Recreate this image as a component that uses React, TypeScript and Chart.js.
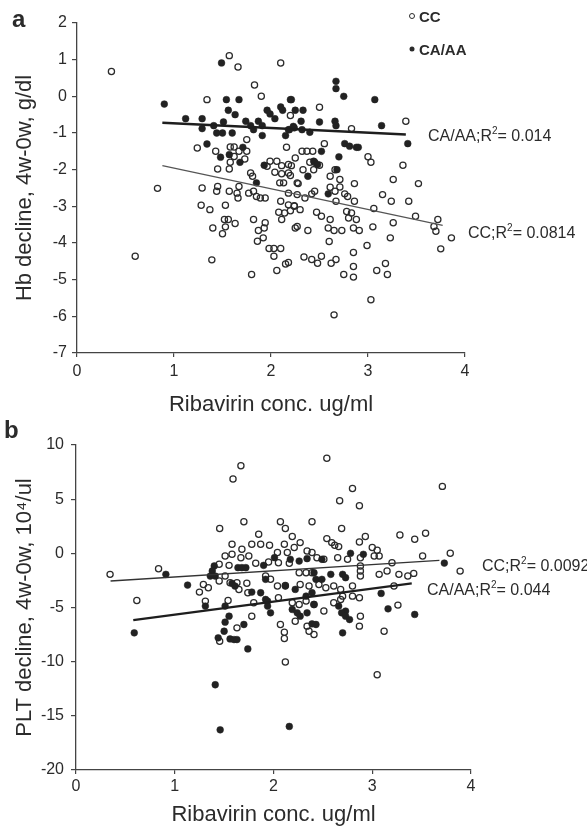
import React, { useEffect, useRef } from "react";
import { Chart, registerables } from "chart.js";

Chart.register(...registerables);

// ---------- DATA ----------
const xTicksLabel = "Ribavirin conc. ug/ml";
const hbTitle = "Hb decline, 4w-0w, g/dl";
const pltTitle = "PLT decline, 4w-0w, 10\u2074/ul";

// Panel a: Hb decline (CC = open circles)
const hbCC: [number, number][] = [
  [0.355, 0.68], [0.6, -4.36], [0.83, -2.51],
  [1.57, 1.11], [1.66, 0.8], [2.1, 0.91], [1.83, 0.31], [1.9, 0.0], [1.34, -0.09],
  [2.2, -0.52], [1.75, -1.18], [2.16, -1.39], [1.24, -1.41], [1.43, -1.5],
  [1.58, -1.38], [1.62, -1.38], [1.67, -1.5], [1.75, -1.5],
  [1.62, -1.64], [1.73, -1.71], [1.58, -1.8], [1.45, -1.98], [1.57, -1.98],
  [1.99, -1.77], [2.06, -1.77], [2.11, -1.89], [2.21, -1.89], [1.96, -1.91], [2.04, -2.07], [2.11, -2.11], [2.18, -2.09],
  [1.79, -2.09], [1.81, -2.18], [2.09, -2.36], [2.13, -2.36], [2.27, -2.36],
  [1.29, -2.5], [1.45, -2.46], [1.44, -2.59], [1.57, -2.59], [1.67, -2.46], [1.66, -2.77], [1.65, -2.64],
  [1.77, -2.64], [1.82, -2.59], [1.85, -2.73], [1.89, -2.77], [1.94, -2.77], [2.27, -2.68],
  [1.28, -2.97], [1.37, -3.09], [1.53, -2.97], [2.1, -2.86],
  [2.08, -3.16], [2.14, -3.18], [2.2, -3.12], [2.11, -3.36], [2.24, -2.98],
  [1.82, -3.36], [1.94, -3.45], [1.93, -3.59],
  [1.52, -3.36], [1.56, -3.36], [1.63, -3.47], [1.53, -3.56], [1.5, -3.75],
  [1.4, -3.59], [2.25, -3.59],
  [1.87, -3.66], [1.92, -3.86], [1.86, -3.95],
  [1.98, -4.15], [2.03, -4.15], [2.1, -4.15], [2.03, -4.36],
  [2.15, -4.57], [2.06, -4.75], [1.39, -4.46], [1.8, -4.86],
  [2.5, -0.3], [2.83, -0.88], [3.39, -0.68], [2.55, -1.29],
  [2.32, -1.5], [2.37, -1.5], [2.43, -1.5], [2.25, -1.68], [2.18, -1.86],
  [2.4, -1.8], [2.45, -1.8], [2.5, -1.88], [2.33, -2.0], [2.44, -2.0],
  [3.0, -1.65], [3.03, -1.8], [3.36, -1.88], [2.66, -2.0],
  [2.2, -2.16], [2.28, -2.38], [2.61, -2.18], [2.71, -2.27], [2.86, -2.38], [3.26, -2.27], [3.52, -2.38],
  [2.61, -2.48], [2.66, -2.59], [2.71, -2.47],
  [2.45, -2.59], [2.18, -2.64], [2.35, -2.77], [2.42, -2.66],
  [2.76, -2.66], [2.79, -2.73], [2.86, -2.86], [2.67, -2.86],
  [3.15, -2.68], [3.24, -2.86], [3.42, -2.86],
  [2.18, -2.96], [2.24, -3.0], [2.3, -3.09], [2.47, -3.16], [2.52, -3.27], [2.78, -3.14], [2.83, -3.18], [2.88, -3.36], [2.8, -3.32],
  [3.06, -3.06], [3.49, -3.27], [3.72, -3.36], [3.68, -3.55], [3.7, -3.68],
  [2.27, -3.55], [2.38, -3.66], [2.61, -3.36], [2.59, -3.59], [2.65, -3.66], [2.73, -3.66], [2.85, -3.59], [2.91, -3.66], [3.05, -3.56],
  [3.26, -3.45], [3.23, -3.86], [3.86, -3.86], [3.75, -4.16],
  [2.18, -4.53], [2.6, -3.96], [2.99, -4.07],
  [2.34, -4.38], [2.42, -4.45], [2.48, -4.55], [2.52, -4.36], [2.62, -4.55], [2.67, -4.45],
  [2.85, -4.26], [2.85, -4.64], [2.85, -4.93], [2.75, -4.86],
  [3.09, -4.75], [3.18, -4.56], [3.2, -4.86], [3.03, -5.55], [2.65, -5.96],
];

// Panel a: Hb decline (CA/AA = filled circles)
const hbCAAA: [number, number][] = [
  [1.49, 0.91], [0.9, -0.21], [1.54, -0.09], [1.67, -0.09], [2.2, -0.09], [1.56, -0.38], [1.63, -0.5],
  [1.96, -0.38], [1.99, -0.48], [2.04, -0.61], [2.1, -0.29], [2.12, -0.38],
  [1.12, -0.61], [1.29, -0.61], [1.29, -0.88], [1.41, -0.8], [1.44, -1.0], [1.5, -1.0], [1.51, -0.7], [1.6, -1.0],
  [1.74, -0.68], [1.79, -0.8], [1.82, -0.91], [1.87, -0.68], [1.91, -0.8], [1.91, -1.07],
  [2.15, -1.07], [2.19, -0.91], [2.23, -0.82],
  [1.34, -1.3], [1.71, -1.39], [1.48, -1.66], [1.57, -1.59], [1.68, -1.8], [1.93, -1.88], [1.85, -2.36],
  [2.67, 0.41], [2.67, 0.21], [2.75, 0.0], [3.07, -0.09], [2.21, -0.09], [2.25, -0.38], [2.33, -0.38],
  [2.31, -0.68], [2.5, -0.7], [2.66, -0.68], [2.67, -0.8],
  [2.18, -0.91], [2.24, -0.86], [2.32, -0.91], [2.4, -0.98], [3.14, -0.8], [3.41, -1.29],
  [2.52, -1.5], [2.76, -1.29], [2.81, -1.36], [2.88, -1.39], [2.9, -1.39],
  [2.44, -1.77], [2.48, -1.86], [2.7, -1.65], [2.68, -2.0], [2.38, -2.18], [2.59, -2.66],
];

// Panel a regression lines (end points)
const hbCCFit: [number, number][] = [[0.88, -1.89], [3.77, -3.52]];
const hbCAAAFit: [number, number][] = [[0.88, -0.72], [3.39, -1.04]];

// Panel b: PLT decline (CC = open circles)
const pltCC: [number, number][] = [
  [0.345, -1.94], [0.836, -1.42], [0.616, -4.35],
  [1.455, 2.29], [1.59, 6.86], [1.67, 8.09], [1.7, 2.91],
  [1.58, 0.84], [1.68, 0.38], [1.51, -0.24], [1.58, -0.09], [1.45, -1.01], [1.55, -1.11], [1.67, -0.4],
  [1.29, -2.87], [1.25, -3.58], [1.34, -3.17], [1.45, -2.56],
  [1.51, -2.1], [1.56, -2.71], [1.63, -2.71], [1.65, -3.33], [1.73, -2.77],
  [1.31, -4.41], [1.54, -4.35], [1.455, -8.11], [1.63, -6.88], [1.74, -3.64],
  [2.54, 8.77], [2.8, 5.99], [2.67, 4.85], [2.87, 4.39], [3.71, 6.18],
  [2.07, 2.91], [2.12, 2.29], [2.39, 2.91], [2.69, 2.29], [1.85, 1.76], [2.19, 1.55],
  [2.54, 1.36], [2.59, 0.99], [2.66, 0.62], [2.62, 0.75], [2.87, 1.05], [2.93, 1.55],
  [3.28, 1.7], [3.43, 1.3], [3.54, 1.86], [3.51, -0.24],
  [1.78, 0.84], [1.87, 0.84], [1.96, 0.75], [2.11, 0.84], [2.27, 0.99], [2.21, 0.53], [2.04, 0.07], [2.14, 0.07],
  [2.34, 0.22], [2.39, 0.07], [2.44, -0.4], [2.51, -0.55],
  [3.0, 0.53], [3.05, 0.28], [3.07, -0.24],
  [1.75, -0.24], [1.82, -0.92], [1.95, -0.8], [2.05, -0.86], [2.16, -0.92],
  [2.65, -0.4], [2.75, -0.55], [2.88, -0.4], [3.02, -0.24],
  [2.26, -1.79], [2.33, -1.79], [2.39, -1.79],
  [2.88, -1.17], [2.88, -1.63], [2.88, -2.1],
  [3.07, -1.94], [3.15, -1.63], [3.2, -0.86],
  [3.27, -1.94], [3.36, -2.1], [3.42, -1.85], [3.22, -3.02],
  [1.92, -2.1], [1.97, -2.4], [2.04, -3.02], [2.12, -2.96], [2.27, -2.87], [2.36, -3.02], [2.46, -2.87], [2.53, -3.17], [2.61, -3.02], [2.68, -3.33], [2.8, -3.02], [2.87, -4.1],
  [1.8, -4.57], [2.05, -4.1], [2.19, -4.57], [2.26, -4.72], [2.33, -4.41], [2.41, -4.72], [2.51, -5.33],
  [2.61, -4.57], [2.68, -4.26], [2.7, -3.95], [2.88, -5.8], [2.87, -6.72], [2.8, -3.95],
  [1.78, -5.8], [2.07, -6.57], [2.11, -7.28], [2.11, -7.87], [2.22, -6.26], [2.34, -6.72], [2.36, -7.19], [2.41, -7.5],
  [2.12, -10.03], [3.05, -11.2],
  [3.12, -7.19], [3.26, -4.78],
  [3.79, 0.0], [3.89, -1.64],
];

// Panel b: PLT decline (CA/AA = filled circles)
const pltCAAA: [number, number][] = [
  [0.91, -1.94], [1.13, -2.93], [0.59, -7.34],
  [1.4, -1.17], [1.38, -1.63], [1.41, -2.1], [1.36, -2.1],
  [1.64, -1.32], [1.68, -1.32], [1.72, -1.32],
  [1.58, -2.77], [1.61, -3.02],
  [1.31, -4.87], [1.51, -4.87],
  [1.55, -5.8], [1.51, -6.35], [1.5, -7.19], [1.44, -7.8],
  [1.56, -7.9], [1.6, -7.96], [1.63, -7.96], [1.7, -6.57], [1.74, -8.82],
  [1.41, -12.13], [1.46, -16.29],
  [2.78, 0.0], [2.91, -0.09], [2.01, -0.4], [1.9, -1.11],
  [2.17, -0.55], [2.26, -0.71], [2.34, -0.49], [2.49, -0.55],
  [2.41, -1.79], [2.43, -2.4], [2.49, -2.4], [2.58, -1.94], [2.7, -1.94], [2.73, -2.25],
  [1.92, -2.4], [2.12, -3.02], [2.22, -3.33], [2.33, -3.95], [2.39, -3.64],
  [1.78, -3.58], [1.87, -3.64], [1.92, -4.26], [1.94, -4.41], [1.97, -5.49], [1.94, -4.87],
  [2.19, -5.18], [2.24, -5.49], [2.27, -5.8], [2.34, -5.49], [2.41, -4.72], [2.43, -6.57], [2.73, -5.33], [2.77, -6.11],
  [2.66, -4.87], [2.69, -5.49], [2.73, -5.8],
  [2.39, -6.51], [2.7, -7.34],
  [2.16, -15.98],
  [3.09, -3.7], [3.16, -5.12], [3.43, -5.64], [3.73, -0.9],
];

// Panel b regression lines (end points)
const pltCCFit: [number, number][] = [[0.35, -2.56], [3.68, -0.65]];
const pltCAAAFit: [number, number][] = [[0.58, -6.17], [3.4, -2.78]];

const hbYTicks = { min: -7, max: 2, step: 1 };
const pltYTicks = { min: -20, max: 10, step: 5 };
const xTicks = { min: 0, max: 4, step: 1 };

// ---------- STYLE ----------
const FONT = "'Liberation Sans', Arial, Helvetica, sans-serif";
const INK = "#2b2b2b";
const AXIS = "#444";

// parts: [text, isSuperscript]
type Ann = { parts: [string, boolean][]; x: number; y: number; size: number; bold?: boolean; dot?: "open" | "filled" };

const annPlugin = {
  id: "annText",
  afterDraw(chart: any) {
    const anns: Ann[] = chart.options.plugins.annText?.items || [];
    const ctx = chart.ctx;
    ctx.save();
    for (const a of anns) {
      if (a.dot) {
        ctx.beginPath();
        ctx.arc(a.x - 7, a.y - 2, 2.5, 0, Math.PI * 2);
        if (a.dot === "filled") {
          ctx.fillStyle = INK;
          ctx.fill();
        } else {
          ctx.strokeStyle = INK;
          ctx.lineWidth = 1;
          ctx.stroke();
        }
      }
      ctx.fillStyle = INK;
      ctx.textAlign = "left";
      ctx.textBaseline = "middle";
      let cx = a.x;
      for (const [t, sup] of a.parts) {
        const size = sup ? Math.round(a.size * 0.62) : a.size;
        ctx.font = `${a.bold ? "bold " : ""}${size}px ${FONT}`;
        const dy = sup ? -a.size * 0.33 : 0;
        ctx.fillText(t, cx, a.y + dy);
        cx += ctx.measureText(t).width;
      }
    }
    ctx.restore();
  },
};

const toXY = (arr: [number, number][]) => arr.map(([x, y]) => ({ x, y }));

function buildConfig(p: {
  cc: [number, number][];
  ca: [number, number][];
  ccFit: [number, number][];
  caFit: [number, number][];
  ccFitWidth: number;
  ccFitColor: string;
  caFitWidth: number;
  yTicks: { min: number; max: number; step: number };
  yTitle: string;
  yWidth: number;
  xHeight: number;
  padTop: number;
  padRight: number;
  xTickPad: number;
  yTickPad: number;
  xTitlePad: number;
  anns: Ann[];
}) {
  return {
    type: "scatter",
    data: {
      datasets: [
        {
          label: "CC",
          data: toXY(p.cc),
          pointRadius: 3.1,
          pointBorderWidth: 1.25,
          borderColor: INK,
          backgroundColor: "rgba(255,255,255,0)",
          pointBorderColor: INK,
          pointBackgroundColor: "rgba(255,255,255,0)",
          order: 4,
        },
        {
          label: "CA/AA",
          data: toXY(p.ca),
          pointRadius: 3.4,
          pointBorderWidth: 0.5,
          borderColor: "#222",
          backgroundColor: "#222",
          pointBorderColor: "#222",
          pointBackgroundColor: "#222",
          order: 3,
        },
        {
          type: "line",
          label: "CC fit",
          data: toXY(p.ccFit),
          borderColor: p.ccFitColor,
          borderWidth: p.ccFitWidth,
          pointRadius: 0,
          fill: false,
          order: 2,
        },
        {
          type: "line",
          label: "CA/AA fit",
          data: toXY(p.caFit),
          borderColor: "#1e1e1e",
          borderWidth: p.caFitWidth,
          pointRadius: 0,
          fill: false,
          order: 1,
        },
      ],
    },
    options: {
      responsive: false,
      animation: false,
      layout: { padding: { top: p.padTop, right: p.padRight, left: 0, bottom: 0 } },
      plugins: {
        legend: { display: false },
        tooltip: { enabled: false },
        annText: { items: p.anns },
      },
      scales: {
        x: {
          type: "linear",
          min: xTicks.min,
          max: xTicks.max,
          ticks: { stepSize: xTicks.step, color: INK, font: { family: FONT, size: 16 }, padding: p.xTickPad },
          grid: { drawOnChartArea: false, drawTicks: true, tickLength: 4, color: AXIS, lineWidth: 1.2 },
          border: { display: true, color: AXIS, width: 1.3 },
          title: {
            display: true,
            text: xTicksLabel,
            color: INK,
            font: { family: FONT, size: 22 },
            padding: { top: 0, bottom: p.xTitlePad },
          },
          afterFit: (s: any) => {
            s.height = p.xHeight;
          },
        },
        y: {
          type: "linear",
          min: p.yTicks.min,
          max: p.yTicks.max,
          ticks: { stepSize: p.yTicks.step, color: INK, font: { family: FONT, size: 16 }, padding: p.yTickPad },
          grid: { drawOnChartArea: false, drawTicks: true, tickLength: 5, color: AXIS, lineWidth: 1.2 },
          border: { display: true, color: AXIS, width: 1.3 },
          title: {
            display: true,
            text: p.yTitle,
            color: INK,
            font: { family: FONT, size: 22 },
            padding: { top: 12, bottom: 0 },
          },
          afterFit: (s: any) => {
            s.width = p.yWidth;
          },
        },
      },
    },
    plugins: [annPlugin],
  };
}

export default function App() {
  const topRef = useRef<HTMLCanvasElement | null>(null);
  const botRef = useRef<HTMLCanvasElement | null>(null);

  useEffect(() => {
    const top = new Chart(
      topRef.current as HTMLCanvasElement,
      buildConfig({
        cc: hbCC,
        ca: hbCAAA,
        ccFit: hbCCFit,
        caFit: hbCAAAFit,
        ccFitWidth: 1.1,
        ccFitColor: "#555",
        caFitWidth: 2.4,
        yTicks: hbYTicks,
        yTitle: hbTitle,
        yWidth: 77,
        xHeight: 67,
        padTop: 23,
        padRight: 122,
        xTickPad: 5,
        yTickPad: 5,
        xTitlePad: 2,
        anns: [
          { parts: [["a", false]], x: 12, y: 20, size: 24, bold: true },
          { parts: [["CC", false]], x: 419, y: 18, size: 15, bold: true, dot: "open" },
          { parts: [["CA/AA", false]], x: 419, y: 51, size: 15, bold: true, dot: "filled" },
          { parts: [["CA/AA;R", false], ["2", true], ["= 0.014", false]], x: 428, y: 137, size: 16 },
          { parts: [["CC;R", false], ["2", true], ["= 0.0814", false]], x: 468, y: 234, size: 16 },
        ],
      }) as any
    );
    const bot = new Chart(
      botRef.current as HTMLCanvasElement,
      buildConfig({
        cc: pltCC,
        ca: pltCAAA,
        ccFit: pltCCFit,
        caFit: pltCAAAFit,
        ccFitWidth: 1.5,
        ccFitColor: "#333",
        caFitWidth: 2.2,
        yTicks: pltYTicks,
        yTitle: pltTitle,
        yWidth: 76,
        xHeight: 63,
        padTop: 25,
        padRight: 116,
        xTickPad: 3,
        yTickPad: 7,
        xTitlePad: 5,
        anns: [
          { parts: [["b", false]], x: 4, y: 11, size: 24, bold: true },
          { parts: [["CC;R", false], ["2", true], ["= 0.0092", false]], x: 482, y: 147, size: 16 },
          { parts: [["CA/AA;R", false], ["2", true], ["= 0.044", false]], x: 427, y: 171, size: 16 },
        ],
      }) as any
    );
    return () => {
      top.destroy();
      bot.destroy();
    };
  }, []);

  return (
    <div style={{ position: "absolute", left: 0, top: 0, width: 587, height: 833, background: "#fff" }}>
      <canvas ref={topRef} width={587} height={420} style={{ position: "absolute", left: 0, top: 0, display: "block" }} />
      <canvas ref={botRef} width={587} height={413} style={{ position: "absolute", left: 0, top: 420, display: "block" }} />
    </div>
  );
}
